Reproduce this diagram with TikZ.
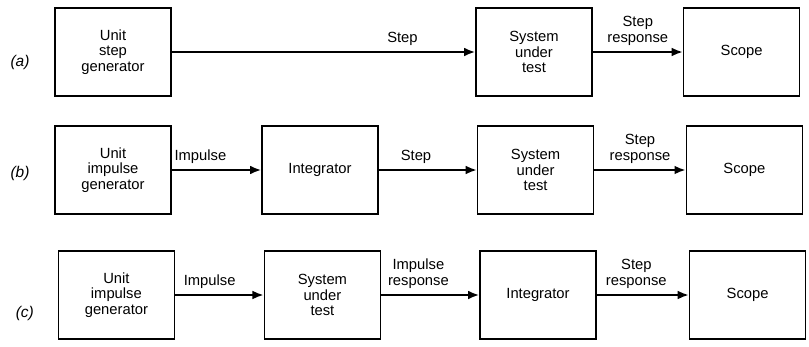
\documentclass[tikz,border=0pt]{standalone}
\usepackage{fontspec}
\setmainfont{Liberation Sans}
\usetikzlibrary{arrows.meta}
\begin{document}
\begin{tikzpicture}[
  blk/.style={draw, line width=1pt, minimum width=2.9cm, minimum height=2.2cm, align=center, inner sep=1pt, font=\fontsize{10.5}{11}\selectfont},
  sig/.style={line width=1.5pt, -{Latex[length=2.8mm, width=2.2mm]}},
  lbl/.style={above, align=center, inner sep=1pt, yshift=3pt, font=\fontsize{10.5}{11}\selectfont},
  tag/.style={font=\fontsize{11}{11}\selectfont\itshape}
]
\useasboundingbox (0,0) rectangle (20.225,-8.65);

\node[tag] (taga) at (0.5,-1.55) {(a)};
\node[blk] (gena) at (2.825,-1.3) {Unit\\step\\generator};
\node[blk] (suta) at (13.35,-1.3) {System\\under\\test};
\node[blk] (scopea) at (18.54,-1.3) {Scope};

\draw[sig] (gena) -- node[lbl, pos=0.76] {Step} (suta);
\draw[sig] (suta) -- node[lbl, pos=0.5] {Step\\response} (scopea);

\node[tag] (tagb) at (0.5,-4.33) {(b)};
\node[blk] (genb) at (2.825,-4.25) {Unit\\impulse\\generator};
\node[blk] (intb) at (8.0,-4.25) {Integrator};
\node[blk] (sutb) at (13.39,-4.25) {System\\under\\test};
\node[blk] (scopeb) at (18.61,-4.25) {Scope};

\draw[sig] (genb) -- node[lbl, pos=0.32] {Impulse} (intb);
\draw[sig] (intb) -- node[lbl, pos=0.38] {Step} (sutb);
\draw[sig] (sutb) -- node[lbl, pos=0.5] {Step\\response} (scopeb);

\node[tag] (tagc) at (0.62,-7.83) {(c)};
\node[blk] (genc) at (2.91,-7.375) {Unit\\impulse\\generator};
\node[blk] (sutc) at (8.06,-7.375) {System\\under\\test};
\node[blk] (intc) at (13.45,-7.375) {Integrator};
\node[blk] (scopec) at (18.69,-7.375) {Scope};

\draw[sig] (genc) -- node[lbl, pos=0.39] {Impulse} (sutc);
\draw[sig] (sutc) -- node[lbl, pos=0.38] {Impulse\\response} (intc);
\draw[sig] (intc) -- node[lbl, pos=0.43] {Step\\response} (scopec);
\end{tikzpicture}
\end{document}
